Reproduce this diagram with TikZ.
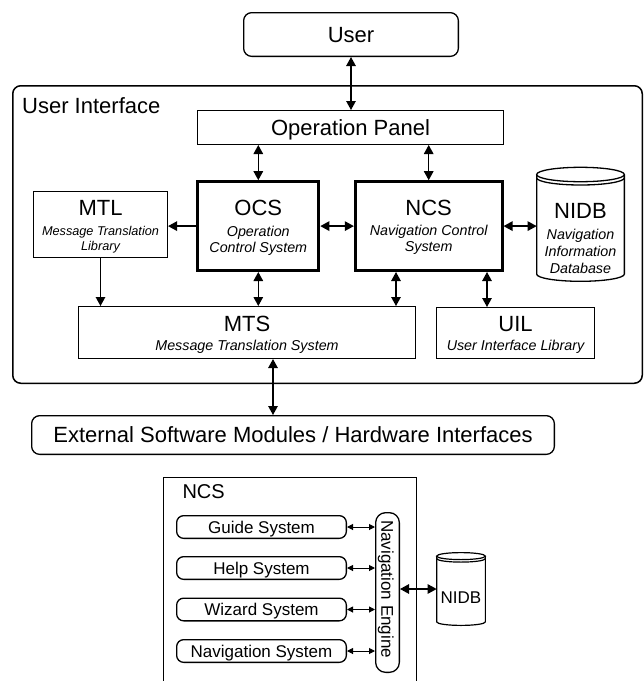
\documentclass[tikz,border=0pt]{standalone}
\usepackage{fontspec}
\setmainfont{Liberation Sans}
\usetikzlibrary{arrows.meta}
\begin{document}
\begin{tikzpicture}[x=1pt,y=1pt,
  box/.style={draw, line width=1.3pt, inner sep=0pt},
  thickbox/.style={draw, line width=3pt, inner sep=0pt},
  bodynode/.style={inner sep=0pt, outer sep=0pt},
  tbig/.style={font=\fontsize{22}{26}\selectfont, inner sep=0pt},
  tsub/.style={font=\fontsize{14.3}{17}\selectfont\itshape, inner sep=0pt},
  tsubs/.style={font=\fontsize{12.7}{15}\selectfont\itshape, inner sep=0pt},
  tsmall/.style={font=\fontsize{17}{20}\selectfont, inner sep=0pt},
  capbig/.style={text height=15.75pt, text depth=0pt},
  capsmall/.style={text height=12.2pt, text depth=0pt},
  arr/.style={line width=1.3pt, {Triangle[length=9pt,width=9.5pt]}-{Triangle[length=9pt,width=9.5pt]}},
  arrto/.style={line width=1.3pt, -{Triangle[length=9pt,width=9.5pt]}},
  sarr/.style={line width=1pt, {Triangle[length=6pt,width=6pt]}-{Triangle[length=6pt,width=6pt]}},
  sbox/.style={box, rounded corners=7pt, minimum width=169.7pt, minimum height=22.7pt, tsmall, capsmall}
]
\useasboundingbox (0,0) rectangle (644,-681);

% ---------- top diagram ----------
\node[box, rounded corners=8pt, minimum width=214.7pt, minimum height=43.7pt, tbig, capbig] (user) at (351,-34.5) {User};
\node[box, line width=1.5pt, rounded corners=8pt, minimum width=629.5pt, minimum height=297.5pt] (ui) at (327.5,-234.5) {};
\node[tbig, anchor=base west] (uilabel) at (22,-113) {User Interface};
\node[box, minimum width=305.7pt, minimum height=33.7pt, tbig, capbig] (oppanel) at (350.5,-127.5) {Operation Panel};

\node[thickbox, minimum width=121pt, minimum height=88.8pt] (ocs) at (258.3,-226.1) {};
\node[thickbox, minimum width=146.7pt, minimum height=88.8pt] (ncs) at (428.7,-226.1) {};
\node[box, minimum width=133.8pt, minimum height=65.8pt] (mtl) at (100.5,-224.5) {};
\node[box, minimum width=336.7pt, minimum height=51.7pt] (mts) at (247,-332.5) {};
\node[box, minimum width=157.7pt, minimum height=50.7pt] (uil) at (515.5,-333) {};
\node[box, rounded corners=8pt, minimum width=522.7pt, minimum height=38.7pt, tbig, capbig] (ext) at (293,-435) {External Software Modules / Hardware Interfaces};

% NIDB cylinder
\node[bodynode, minimum width=87.7pt, minimum height=99.6pt] (nidb) at (580.5,-224.3) {};
\draw[line width=1.3pt] (nidb.north west) -- (nidb.south west)
  arc[start angle=180, end angle=360, x radius=43.85pt, y radius=7.2pt] -- (nidb.north east);
\draw[line width=1.3pt] (nidb.north) ellipse[x radius=43.85pt, y radius=7.2pt];
\draw[line width=1.3pt] ([yshift=-3.3pt]nidb.north west) arc[start angle=180, end angle=360, x radius=43.85pt, y radius=7.2pt];

% texts
\node[tbig, anchor=base] (mtlt) at (100.5,-215) {MTL};
\node[tsubs, anchor=base] (mtls1) at (100.5,-235) {Message Translation};
\node[tsubs, anchor=base] (mtls2) at (100.5,-250.7) {Library};
\node[tbig, anchor=base] (ocst) at (258.3,-215) {OCS};
\node[tsub, anchor=base] (ocss1) at (258.3,-236) {Operation};
\node[tsub, anchor=base] (ocss2) at (258.3,-252) {Control System};
\node[tbig, anchor=base] (ncst) at (428.7,-215) {NCS};
\node[tsub, anchor=base] (ncss1) at (428.7,-235) {Navigation Control};
\node[tsub, anchor=base] (ncss2) at (428.7,-251.5) {System};
\node[tbig, anchor=base] (nidbt) at (580.5,-218) {NIDB};
\node[tsub, anchor=base] (nidbs1) at (580.5,-239) {Navigation};
\node[tsub, anchor=base] (nidbs2) at (580.5,-256) {Information};
\node[tsub, anchor=base] (nidbs3) at (580.5,-273) {Database};
\node[tbig, anchor=base] (mtst) at (247,-331) {MTS};
\node[tsub, anchor=base] (mtss) at (247,-350) {Message Translation System};
\node[tbig, anchor=base] (uilt) at (515.5,-331) {UIL};
\node[tsub, anchor=base] (uils) at (515.5,-350) {User Interface Library};

% connectors
\draw[arr] (user.south) -- (user.south |- oppanel.north);
\draw[arr] (ocs.north |- oppanel.south) -- (ocs.north);
\draw[arr] (ncs.north |- oppanel.south) -- (ncs.north);
\draw[arrto] (ocs.west) -- (ocs.west -| mtl.east);
\draw[arr] (ocs.east) -- (ocs.east -| ncs.west);
\draw[arr] (ncs.east) -- (ncs.east -| nidb.west);
\draw[arrto] (mtl.south) -- (mtl.south |- mts.north);
\draw[arr] (ocs.south) -- (ocs.south |- mts.north);
\draw[arr] ([xshift=-32.7pt]ncs.south) -- ([xshift=-32.7pt]ncs.south |- mts.north);
\draw[arr] ([xshift=58.3pt]ncs.south) -- ([xshift=58.3pt]ncs.south |- uil.north);
\draw[arr] ([xshift=26pt]mts.south) -- ([xshift=26pt]mts.south |- ext.north);

% ---------- bottom diagram ----------
\node[box, minimum width=253pt, minimum height=260pt] (ncsbox) at (290.2,-607.3) {};
\node[font=\fontsize{20}{24}\selectfont, inner sep=0pt, anchor=base west] (ncslabel) at (182.3,-498) {NCS};

\node[sbox] (guide) at (261.5,-527) {Guide System};
\node[sbox] (help) at (261.5,-568) {Help System};
\node[sbox] (wizard) at (261.5,-609.5) {Wizard System};
\node[sbox] (navsys) at (261.5,-651) {Navigation System};

\node[box, rounded corners=10pt, minimum width=23.7pt, minimum height=159.7pt] (engine) at (387.5,-592.5) {};
\node[tsmall, capsmall, rotate=-90] (enginet) at (387.5,-589) {Navigation Engine};

\node[bodynode, minimum width=48.7pt, minimum height=65.8pt] (nidbb) at (461,-589) {};
\draw[line width=1.2pt] (nidbb.north west) -- (nidbb.south west)
  arc[start angle=180, end angle=360, x radius=24.35pt, y radius=3.5pt] -- (nidbb.north east);
\draw[line width=1.2pt] (nidbb.north) ellipse[x radius=24.35pt, y radius=3.5pt];
\draw[line width=1.2pt] ([yshift=-2.5pt]nidbb.north west) arc[start angle=180, end angle=360, x radius=24.35pt, y radius=3.5pt];
\node[tsmall, anchor=base] (nidbbt) at (461,-603.5) {NIDB};

\draw[sarr] (guide.east) -- (guide.east -| engine.west);
\draw[sarr] (help.east) -- (help.east -| engine.west);
\draw[sarr] (wizard.east) -- (wizard.east -| engine.west);
\draw[sarr] (navsys.east) -- (navsys.east -| engine.west);
\draw[arr] (nidbb.west -| engine.east) -- (nidbb.west);
\end{tikzpicture}
\end{document}
